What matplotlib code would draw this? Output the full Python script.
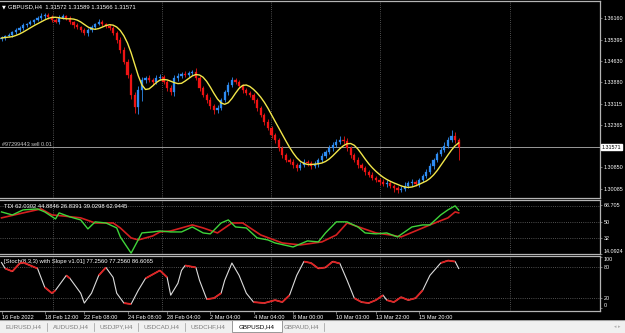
import numpy as np
import pandas as pd
import matplotlib
matplotlib.use("Agg")
import matplotlib.pyplot as plt
from matplotlib.transforms import blended_transform_factory as btf
from matplotlib.collections import LineCollection

plt.rcParams['font.family'] = ['Liberation Sans', 'DejaVu Sans']

# ---------------- data ----------------
closes = [
    1.3545, 1.3552, 1.3556, 1.3566, 1.3573, 1.3581, 1.3591, 1.3595, 1.3602, 1.3609, 1.3616, 1.3623, 1.3627, 1.3620, 1.3609, 1.3602,
    1.3616, 1.3623, 1.3616, 1.3602, 1.3591, 1.3584, 1.3573, 1.3563, 1.3573, 1.3584, 1.3595, 1.3602, 1.3595, 1.3588, 1.3581, 1.3563,
    1.3538, 1.3502, 1.3460, 1.3414, 1.3343, 1.3300, 1.3360, 1.3396, 1.3403, 1.3396, 1.3389, 1.3403, 1.3407, 1.3389, 1.3367, 1.3353,
    1.3403, 1.3410, 1.3417, 1.3414, 1.3421, 1.3424, 1.3403, 1.3367, 1.3343, 1.3325, 1.3304, 1.3289, 1.3296, 1.3325, 1.3353, 1.3378,
    1.3396, 1.3389, 1.3375, 1.3360, 1.3350, 1.3343, 1.3325, 1.3296, 1.3272, 1.3247, 1.3226, 1.3201, 1.3183, 1.3154, 1.3130, 1.3112,
    1.3105, 1.3094, 1.3084, 1.3094, 1.3105, 1.3101, 1.3091, 1.3098, 1.3112, 1.3126, 1.3140, 1.3154, 1.3165, 1.3176, 1.3183, 1.3180,
    1.3154, 1.3130, 1.3112, 1.3094, 1.3084, 1.3069, 1.3059, 1.3048, 1.3041, 1.3034, 1.3027, 1.3030, 1.3020, 1.3013, 1.3005, 1.3009,
    1.3020, 1.3030, 1.3034, 1.3027, 1.3041, 1.3055, 1.3069, 1.3091, 1.3112, 1.3133, 1.3147, 1.3162, 1.3183, 1.3197, 1.3183, 1.3157,
]
first_open = 1.3540
up_wick_pips = [
    6, 5, 8, 4, 6, 5, 7, 4, 6, 5, 8, 9, 7, 6, 5, 8,
    10, 6, 5, 7, 4, 6, 5, 8, 6, 7, 5, 9, 6, 5, 7, 6,
    8, 9, 10, 12, 8, 10, 15, 9, 7, 10, 8, 12, 9, 6, 8, 10,
    12, 9, 7, 10, 8, 9, 14, 7, 6, 8, 9, 7, 10, 8, 6, 9,
    12, 8, 7, 6, 9, 7, 5, 6, 8, 7, 10, 6, 8, 7, 9, 6,
    8, 10, 7, 12, 9, 8, 6, 10, 7, 9, 8, 10, 12, 9, 15, 13,
    8, 7, 6, 9, 8, 7, 6, 10, 8, 7, 9, 12, 6, 8, 7, 10,
    15, 8, 9, 7, 6, 8, 10, 9, 7, 8, 10, 12, 9, 20, 14, 8,
]
dn_wick_pips = [
    5, 7, 4, 6, 8, 5, 6, 7, 5, 6, 4, 7, 9, 6, 8, 5,
    7, 5, 8, 6, 9, 7, 6, 8, 10, 6, 7, 5, 8, 6, 7, 9,
    10, 12, 9, 11, 14, 20, 25, 40, 12, 9, 10, 8, 9, 7, 10, 12,
    15, 10, 8, 9, 7, 6, 9, 10, 8, 11, 12, 14, 9, 8, 7, 10,
    8, 9, 7, 10, 8, 9, 12, 10, 9, 11, 8, 10, 12, 9, 10, 8,
    9, 12, 10, 8, 7, 9, 11, 8, 10, 7, 6, 8, 9, 7, 8, 10,
    9, 10, 8, 12, 9, 10, 8, 7, 9, 10, 8, 12, 9, 15, 10, 8,
    7, 9, 10, 8, 12, 7, 6, 8, 10, 9, 7, 6, 8, 9, 12, 45,
]
price_ticks = [1.36160, 1.35395, 1.34630, 1.33880, 1.33115, 1.32365, 1.30850, 1.30085]
current_price = 1.31571
title_text = "GBPUSD,H4  1.31572 1.31589 1.31566 1.31571"
order_text = "#97299443 sell 0.01"

time_label_bars = [0, 12, 23, 35, 46, 58, 70, 81, 93, 104, 116]
time_labels = ['16 Feb 2022', '18 Feb 12:00', '22 Feb 08:00', '24 Feb 08:00', '28 Feb 04:00',
               '2 Mar 04:00', '4 Mar 04:00', '8 Mar 00:00', '10 Mar 03:00', '13 Mar 22:00', '15 Mar 20:00']
grid_bars = [14.3, 44.6, 74.9, 105.1, 141.3]

tdi_text = "TDI 62.0302 44.8846 26.8391 39.0298 62.9445"
tdi_green_bars = [0, 3, 6, 10, 12, 15, 16, 19, 22, 24, 26, 29, 32, 33, 36, 39, 42, 44, 47, 50, 53, 56, 58, 61, 63,
                  65, 68, 71, 74, 76, 81, 85, 88, 90, 93, 96, 99, 101, 104, 107, 110, 114, 117, 119, 122, 124, 126, 127]
tdi_green_vals = [60.9, 57.5, 63.2, 64.3, 60.9, 53.0, 59.8, 55.3, 51.9, 41.8, 49.7, 48.5, 42.9, 32.8, 14.6, 37.3,
                  38.4, 39.5, 38.4, 38.4, 44.0, 37.3, 36.2, 48.5, 51.9, 44.0, 42.9, 31.7, 29.4, 26.0, 21.5, 28.3,
                  27.2, 37.3, 49.7, 49.7, 44.0, 37.3, 36.2, 37.3, 32.8, 44.0, 46.3, 46.3, 57.5, 63.2, 67.7, 62.9]
tdi_red_bars = [0, 6, 11, 14, 17, 22, 26, 31, 33, 36, 38, 42, 44, 47, 53, 56, 60, 64, 67, 72, 78, 83, 89,
                93, 96, 100, 104, 108, 111, 117, 119, 124, 126, 127]
tdi_red_vals = [54.2, 59.8, 64.3, 57.5, 56.4, 54.2, 48.5, 48.5, 42.9, 31.7, 29.4, 33.9, 38.4, 39.5, 46.3, 42.9,
                37.3, 48.5, 48.5, 35.0, 26.0, 23.8, 27.2, 35.0, 48.5, 42.9, 37.3, 35.0, 32.8, 42.9, 46.3, 54.2,
                60.9, 59.8]
tdi_levels = [68, 50, 32]
tdi_ticks = [68.705, 50, 32, 14.0924]
tdi_ticklabels = ['68.705', '50', '32', '14.0924']

stoch_text = "[Stoch(8,3,3) with Slope v1.01] 77.2560 77.2560 86.6065"
stoch_bars = [0, 1, 3, 5, 6, 10, 12, 14, 15, 18, 19, 22, 23, 25, 27, 29, 31, 32, 34, 36, 38, 40, 44, 46, 47,
              49, 50, 51, 54, 55, 57, 59, 61, 62, 64, 66, 68, 70, 73, 76, 78, 80, 82, 84, 86, 88, 90, 92,
              94, 96, 98, 100, 102, 104, 106, 107, 109, 111, 113, 115, 117, 119, 122, 124, 126, 127]
stoch_vals = [89.0, 77.4, 71.6, 87.0, 89.0, 77.4, 40.6, 29.0, 34.8, 63.8, 58.0, 29.0, 9.7, 29.0, 63.8, 79.3,
              60.0, 29.0, 9.7, 7.7, 34.8, 58.0, 73.5, 60.0, 25.1, 48.4, 73.5, 83.2, 79.3, 54.2, 17.4, 19.3,
              29.0, 54.2, 88.0, 63.8, 29.0, 11.6, 9.7, 15.5, 11.6, 25.1, 63.8, 90.9, 88.0, 77.4, 79.3, 90.9,
              87.0, 54.2, 19.3, 11.6, 9.7, 15.5, 25.1, 15.5, 11.6, 21.3, 15.5, 19.3, 34.8, 63.8, 88.0, 92.8,
              90.9, 77.3]
stoch_levels = [80, 20]
stoch_ticks = [100, 80, 20, 0]

tabs = ['EURUSD,H4', 'AUDUSD,H4', 'USDJPY,H4', 'USDCAD,H4', 'USDCHF,H4', 'GBPUSD,H4', 'GBPAUD,H4']
active_tab = 'GBPUSD,H4'

# ---------------- styling ----------------
W, H = 625, 333
BULL = '#2e8cf2'
BEAR = '#ee1414'
GRID = '#6a6a6a'
BORDER = '#b4b4b4'
FS = 3.9

fig = plt.figure(figsize=(W / 100, H / 100), dpi=100, facecolor='black')


def rect(x0, y0, x1, y1):
    return [x0 / W, 1 - y1 / H, (x1 - x0) / W, (y1 - y0) / H]


ax_main = fig.add_axes(rect(0, 1, 600, 198))
ax_tdi = fig.add_axes(rect(0, 200, 600, 254))
ax_sto = fig.add_axes(rect(0, 255.5, 600, 311))
ax_tab = fig.add_axes(rect(0, 319.5, 625, 333))

XLIM = (-0.42, 166.25)
for ax in (ax_main, ax_tdi, ax_sto):
    ax.set_facecolor('black')
    ax.set_xlim(*XLIM)
    for s in ('top', 'right', 'bottom'):
        ax.spines[s].set_color(BORDER)
        ax.spines[s].set_linewidth(0.9)
    ax.spines['left'].set_visible(False)
    ax.yaxis.tick_right()
    ax.tick_params(axis='y', colors='#a0a0a0', labelcolor='white', labelsize=FS,
                   length=1.6, width=0.5, pad=0.8)
    for gb in grid_bars:
        ax.axvline(gb, color=GRID, lw=0.6, ls=(0, (1, 1.6)), zorder=0)
    ax.set_xticks([])

# ---------------- main pane: candles ----------------
c = np.array(closes)
o = np.r_[first_open, c[:-1]]
hi = np.maximum(o, c) + np.array(up_wick_pips) * 0.0001
lo = np.minimum(o, c) - np.array(dn_wick_pips) * 0.0001
idx = np.arange(len(c))
cols = np.where(c >= o, BULL, BEAR)
ax_main.vlines(idx, lo, hi, colors=cols, lw=0.6, zorder=2)
body_h = np.maximum(np.abs(c - o), 0.00004)
ax_main.bar(idx, body_h, bottom=np.minimum(o, c), width=0.62, color=cols,
            edgecolor=cols, linewidth=0.2, zorder=3)

ma = pd.Series(c).rolling(4, min_periods=1).mean().rolling(4, min_periods=1).mean()
ax_main.plot(idx, ma.values, color='#f2e64a', lw=1.0, zorder=4)

ax_main.set_ylim(1.29766, 1.36764)
ax_main.set_yticks(price_ticks)
ax_main.set_yticklabels([f'{p:.5f}' for p in price_ticks])

ax_main.axhline(current_price, color='#9a9a9a', lw=0.7, zorder=1)
tr = btf(ax_main.transAxes, ax_main.transData)
ax_main.annotate(f'{current_price:.5f}', xy=(1.0, current_price), xycoords=tr,
                 xytext=(1.2, 0), textcoords='offset points', va='center', ha='left',
                 fontsize=FS, color='black',
                 bbox=dict(boxstyle='square,pad=0.1', fc='white', ec='white'))
ax_main.text(0.004, current_price, order_text, transform=tr, va='bottom', ha='left',
             fontsize=4.0, color='#c8c8c8')
ax_main.text(0.004, 0.982, '▼', transform=ax_main.transAxes, va='top', ha='left',
             fontsize=3.6, color='white', family=['DejaVu Sans'])
ax_main.text(0.013, 0.985, title_text, transform=ax_main.transAxes, va='top', ha='left',
             fontsize=4.2, color='white')

# ---------------- TDI pane ----------------
ax_tdi.set_ylim(13.6, 74.3)
for lv in tdi_levels:
    ax_tdi.axhline(lv, color=GRID, lw=0.6, ls=(0, (1, 1.6)), zorder=0)
ax_tdi.plot(tdi_red_bars, tdi_red_vals, color='#d42020', lw=1.2, zorder=3)
ax_tdi.plot(tdi_green_bars, tdi_green_vals, color='#3fd43a', lw=1.0, zorder=4)
ax_tdi.set_yticks(tdi_ticks)
ax_tdi.set_yticklabels(tdi_ticklabels)
tl = ax_tdi.get_yticklabels()
tl[-1].set_va('bottom')
ax_tdi.text(0.006, 0.93, tdi_text, transform=ax_tdi.transAxes, va='top', ha='left',
            fontsize=4.2, color='white')

# ---------------- Stochastic pane ----------------
ax_sto.set_ylim(-5.8, 102.7)
for lv in stoch_levels:
    ax_sto.axhline(lv, color=GRID, lw=0.6, ls=(0, (1, 1.6)), zorder=0)
sb = np.array(stoch_bars, dtype=float)
sv = np.array(stoch_vals)
ax_sto.plot(sb, sv, color='#dcdcdc', lw=0.8, zorder=3)
slope = np.abs(np.diff(sv) / np.diff(sb))
segs = [[(sb[i], sv[i]), (sb[i + 1], sv[i + 1])] for i in range(len(sb) - 1) if slope[i] < 8]
ax_sto.add_collection(LineCollection(segs, colors='#e02222', linewidths=1.3, zorder=4))
ax_sto.set_yticks(stoch_ticks)
ax_sto.set_yticklabels([str(t) for t in stoch_ticks])
lbls = ax_sto.get_yticklabels()
lbls[0].set_va('top')
lbls[-1].set_va('bottom')
ax_sto.text(0.006, 0.93, stoch_text, transform=ax_sto.transAxes, va='top', ha='left',
            fontsize=4.2, color='white')
ax_sto.set_xticks(time_label_bars)
ax_sto.set_xticklabels(time_labels, ha='left', fontsize=4.1, color='white')
ax_sto.tick_params(axis='x', colors='#a0a0a0', labelcolor='white', length=2.2, width=0.5, pad=0.8)

# ---------------- tab bar ----------------
ax_tab.set_facecolor('#f0f0f0')
ax_tab.set_xlim(0, W)
ax_tab.set_ylim(13.5, 0)
ax_tab.set_xticks([])
ax_tab.set_yticks([])
for s in ax_tab.spines.values():
    s.set_visible(False)
ax_tab.axhline(0.3, color='#a0a0a0', lw=0.8)
tab_centers = [24, 71, 116, 161, 208, 257, 301]
sep_x = [47, 94, 138, 185, 324]
for name, cx in zip(tabs, tab_centers):
    if name == active_tab:
        ax_tab.add_patch(plt.Rectangle((232, 0.3), 50, 12.2, fc='white', ec='#8a8a8a', lw=0.6))
    ax_tab.text(cx, 6.8, name, ha='center', va='center', fontsize=4.5,
                color='black' if name == active_tab else '#7c7c7c')
for sx in sep_x:
    ax_tab.plot([sx, sx], [3, 11], color='#9a9a9a', lw=0.5)
ax_tab.text(617, 6.8, '◂ ▸', ha='center', va='center', fontsize=3.5, color='#b0b0b0',
            family=['DejaVu Sans'])

fig.savefig('out.png', dpi=100, facecolor='black')
